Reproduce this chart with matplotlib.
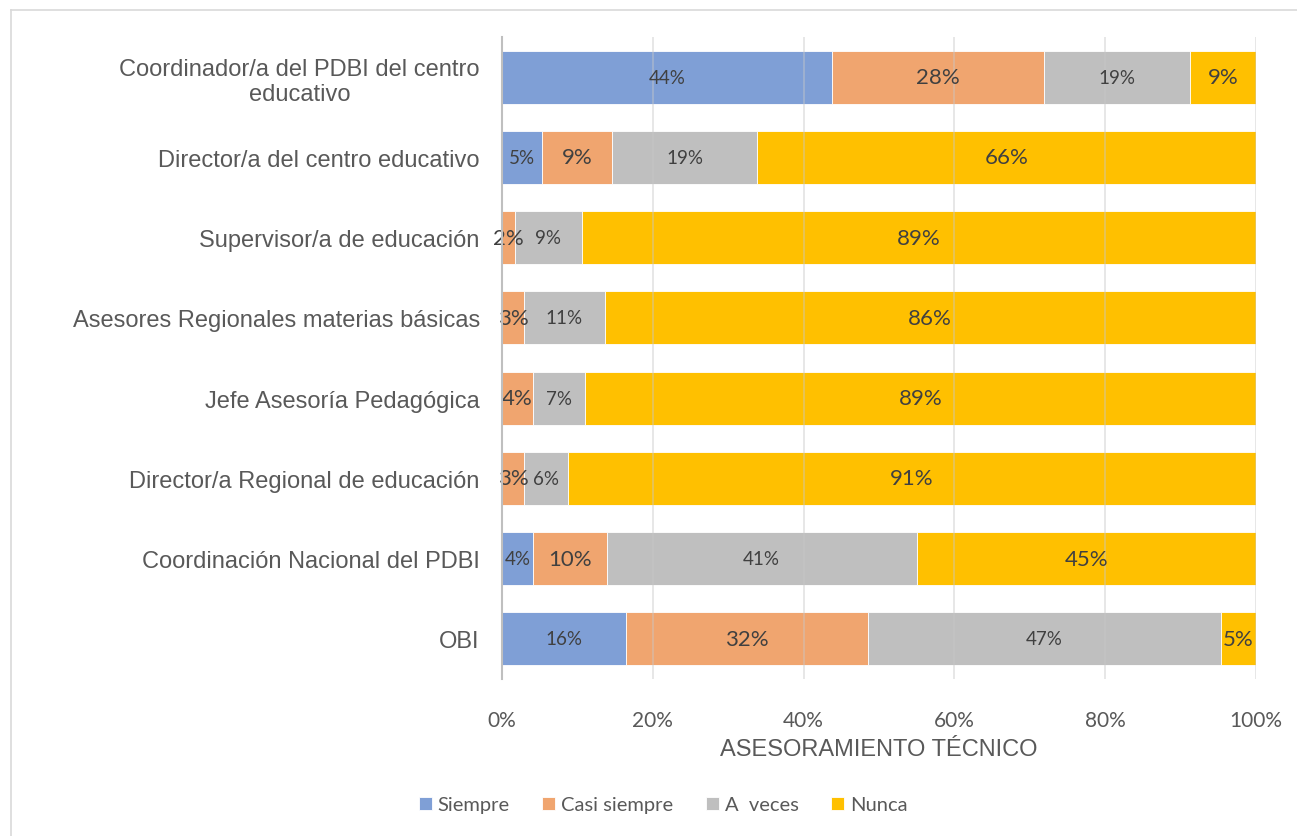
import matplotlib.pyplot as plt
from matplotlib.lines import Line2D
import numpy as np

# categories top to bottom
categories = [
    "Coordinador/a del PDBI del centro\neducativo",
    "Director/a del centro educativo",
    "Supervisor/a de educación",
    "Asesores Regionales materias básicas",
    "Jefe Asesoría Pedagógica",
    "Director/a Regional de educación",
    "Coordinación Nacional del PDBI",
    "OBI",
]
series_names = ["Siempre", "Casi siempre", "A  veces", "Nunca"]

# shares in percent
siempre = [43.8, 5.3, 0.0, 0.0, 0.0, 0.0, 4.1, 16.4]
casi_siempre = [28.1, 9.3, 1.7, 2.9, 4.1, 2.9, 9.8, 32.1]
a_veces = [19.3, 19.2, 8.9, 10.7, 6.9, 5.8, 41.1, 46.8]
nunca = [8.8, 66.2, 89.4, 86.4, 89.0, 91.3, 45.0, 4.7]

colors = ["#7F9FD6", "#F0A56F", "#BFBFBF", "#FFC000"]
label_sizes = [13.5, 16, 13.5, 16]

fig = plt.figure(figsize=(12.97, 8.37), dpi=100)
ax = fig.add_axes([502 / 1297, 1 - 680 / 837, 754 / 1297, 642 / 837])

# light frame lines (top and left only)
fx, fy = 10.5 / 1297, 1 - 10.5 / 837
fig.lines.append(Line2D([fx, 1], [fy, fy], transform=fig.transFigure,
                        color="#D9D9D9", linewidth=1.2))
fig.lines.append(Line2D([fx, fx], [0, fy], transform=fig.transFigure,
                        color="#D9D9D9", linewidth=1.2))

y = np.arange(len(categories))
left = np.zeros(len(categories))
for name, vals, col, fs in zip(series_names, [siempre, casi_siempre, a_veces, nunca], colors, label_sizes):
    vals = np.array(vals)
    ax.barh(y, vals, left=left, height=0.66, color=col, label=name,
            edgecolor="white", linewidth=0.6, zorder=2)
    for yi, v, l in zip(y, vals, left):
        if v > 0.5:
            ax.text(l + v / 2, yi, f"{round(v):.0f}%", ha="center", va="center",
                    fontsize=fs, color="#404040", family="Lato", zorder=4)
    left += vals

ax.set_xlim(0, 100)
ax.set_ylim(len(categories) - 0.5, -0.5)
ax.set_xticks(np.arange(0, 101, 20))
ax.set_xticklabels([f"{t}%" for t in range(0, 101, 20)], family="Lato",
                   fontsize=15, color="#595959")
ax.set_yticks(y)
ax.set_yticklabels(categories, family="Liberation Sans", fontsize=17,
                   color="#595959", multialignment="center")
ax.tick_params(axis="both", length=0)
ax.tick_params(axis="x", pad=22)
ax.tick_params(axis="y", pad=16)
ax.grid(axis="x", color="#C8C8C8", alpha=0.5, linewidth=1.2, zorder=3)
ax.set_axisbelow(False)
for s in ["top", "right", "bottom"]:
    ax.spines[s].set_visible(False)
ax.spines["left"].set_color("#BFBFBF")
ax.spines["left"].set_linewidth(1.5)
ax.spines["left"].set_zorder(5)

ax.set_xlabel("ASESORAMIENTO TÉCNICO", family="Liberation Sans", fontsize=17,
              color="#595959", labelpad=6)

leg = fig.legend(loc="center", bbox_to_anchor=(663 / 1297, 1 - 806 / 837), ncol=4,
                 frameon=False, prop={"family": "Lato", "size": 14.5},
                 handlelength=0.65, handleheight=0.65, handletextpad=0.3,
                 columnspacing=1.6)
for t in leg.get_texts():
    t.set_color("#595959")

fig.savefig("out.png", dpi=100)
